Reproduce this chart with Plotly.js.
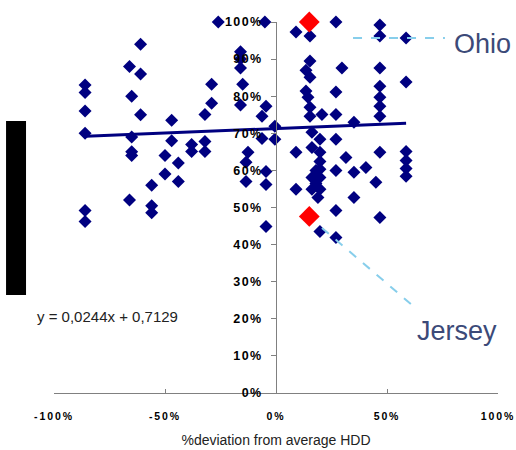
<!DOCTYPE html>
<html>
<head>
<meta charset="utf-8">
<script src="https://cdn.plot.ly/plotly-3.0.1.min.js"></script>
<style>
html,body{margin:0;padding:0;background:#fff;}
#chart{width:516px;height:450px;}
.xtick text{letter-spacing:1.9px;}
.ytick text{letter-spacing:1.4px;}
</style>
</head>
<body>
<div id="chart"></div>
<script>
// % deviation from average HDD (fraction) for each state-year
const devHDD = [
  -0.61,-0.66,-0.61,-0.86,-0.86,-0.65,-0.86,-0.61,-0.47,-0.86,-0.65,-0.65,-0.65,-0.47,-0.50,-0.44,-0.50,-0.56,-0.44,-0.66,-0.56,-0.56,-0.86,-0.86,
  -0.26,-0.05,-0.16,-0.16,-0.16,-0.29,-0.15,-0.29,-0.16,-0.32,-0.045,-0.063,-0.005,-0.38,-0.38,-0.32,-0.32,-0.126,-0.135,-0.135,-0.063,-0.045,-0.045,-0.045,-0.005,
  0.09,0.153,0.27,0.468,0.468,0.586,0.153,0.135,0.153,0.297,0.468,0.586,0.27,0.135,0.144,0.468,0.468,0.468,0.468,0.153,0.153,0.207,0.27,0.351,0.162,0.198,0.27,
  0.09,0.162,0.198,0.198,0.198,0.162,0.198,0.315,0.27,0.351,0.405,0.45,0.468,0.586,0.586,0.586,0.586,0.09,0.162,0.198,0.189,0.351,0.27,0.468,0.198,0.27,0.18,0.18
];
// share (fraction) on the y axis
const share = [
  0.94,0.88,0.86,0.83,0.81,0.80,0.76,0.75,0.735,0.70,0.69,0.65,0.64,0.68,0.64,0.62,0.59,0.56,0.57,0.52,0.505,0.486,0.492,0.462,
  1.0,1.0,0.92,0.90,0.876,0.832,0.832,0.781,0.776,0.751,0.773,0.746,0.719,0.67,0.651,0.678,0.651,0.649,0.622,0.57,0.686,0.597,0.562,0.449,0.684,
  0.973,0.962,1.0,0.992,0.962,0.957,0.895,0.87,0.851,0.876,0.876,0.838,0.811,0.814,0.797,0.827,0.797,0.773,0.746,0.77,0.746,0.751,0.751,0.73,0.703,0.684,0.684,
  0.649,0.662,0.649,0.624,0.603,0.581,0.581,0.635,0.60,0.595,0.608,0.568,0.649,0.651,0.627,0.605,0.584,0.549,0.549,0.549,0.527,0.527,0.492,0.473,0.435,0.419,0.565,0.60
];
// highlighted states
const hiNames = ["Ohio", "Jersey"];
const hiDev = [0.15, 0.15];
const hiShare = [1.0, 0.476];
// regression line y = 0,0244x + 0,7129 over the data range
const slope = 0.0244, intercept = 0.7129;
const trendX = [-0.856, 0.586];
const trendY = trendX.map(x => slope * x + intercept);
const equationText = "y = 0,0244x + 0,7129";
const xTickVals = [-1, -0.5, 0, 0.5, 1];
const xTickText = ["-100%", "-50%", "0%", "50%", "100%"];
const yTickVals = [0,0.1,0.2,0.3,0.4,0.5,0.6,0.7,0.8,0.9,1.0];
const yTickText = ["0%","10%","20%","30%","40%","50%","60%","70%","80%","90%","100%"];

const navy = "#000080";
const data = [
  {x: trendX, y: trendY, mode: "lines", line: {color: navy, width: 3}, hoverinfo: "skip", cliponaxis: false},
  {x: devHDD, y: share, mode: "markers", type: "scatter", cliponaxis: false,
   marker: {symbol: "diamond", size: 10, color: navy, line: {width: 0}}},
  {x: hiDev, y: hiShare, mode: "markers", type: "scatter", cliponaxis: false, text: hiNames,
   marker: {symbol: "diamond", size: 16, color: "#ff0000", line: {width: 0}}}
];
const labelColor = "#3c4a78";
const leader = {color: "#87ceeb", width: 2, dash: "dash"};
const layout = {
  width: 516, height: 450,
  margin: {l: 54, r: 18, t: 22, b: 57},
  paper_bgcolor: "#fff", plot_bgcolor: "#fff",
  showlegend: false,
  font: {family: "Liberation Sans, Arial, sans-serif", color: "#000"},
  xaxis: {
    range: [-1, 1], tickvals: xTickVals, ticktext: xTickText,
    showgrid: false, zeroline: false, showline: true, linecolor: "#808080", linewidth: 1,
    ticks: "inside", ticklen: 4, tickcolor: "#808080",
    tickfont: {size: 10.5, weight: "bold", color: "#000"}, ticklabelstandoff: 13,
    title: {text: "%deviation from average HDD", font: {size: 14, color: "#222"}, standoff: 14}
  },
  yaxis: {
    range: [0, 1], tickvals: yTickVals, ticktext: yTickText,
    anchor: "free", position: 0.5,
    showgrid: false, zeroline: false, showline: true, linecolor: "#808080", linewidth: 1,
    ticks: "outside", ticklen: 5, tickcolor: "#808080",
    tickfont: {size: 12.5, weight: "bold", color: "#000"}, ticklabelstandoff: 6
  },
  shapes: [
    {type: "rect", xref: "paper", yref: "paper", x0: -0.108, x1: -0.063, y0: 0.264, y1: 0.733,
     fillcolor: "#000", line: {width: 0}},
    {type: "line", xref: "x", yref: "y", x0: 0.347, y0: 0.957, x1: 0.761, y1: 0.957, line: leader},
    {type: "line", xref: "x", yref: "y", x0: 0.207, y0: 0.445, x1: 0.613, y1: 0.237, line: leader}
  ],
  annotations: [
    {xref: "x", yref: "y", x: 0.928, y: 0.941, text: hiNames[0], showarrow: false,
     font: {size: 27, color: labelColor}},
    {xref: "x", yref: "y", x: 0.816, y: 0.167, text: hiNames[1], showarrow: false,
     font: {size: 27, color: labelColor}},
    {xref: "x", yref: "y", x: -0.761, y: 0.205, text: equationText, showarrow: false,
     font: {size: 15, color: "#222"}}
  ]
};
Plotly.newPlot("chart", data, layout, {displayModeBar: false, staticPlot: true});
</script>
</body>
</html>
